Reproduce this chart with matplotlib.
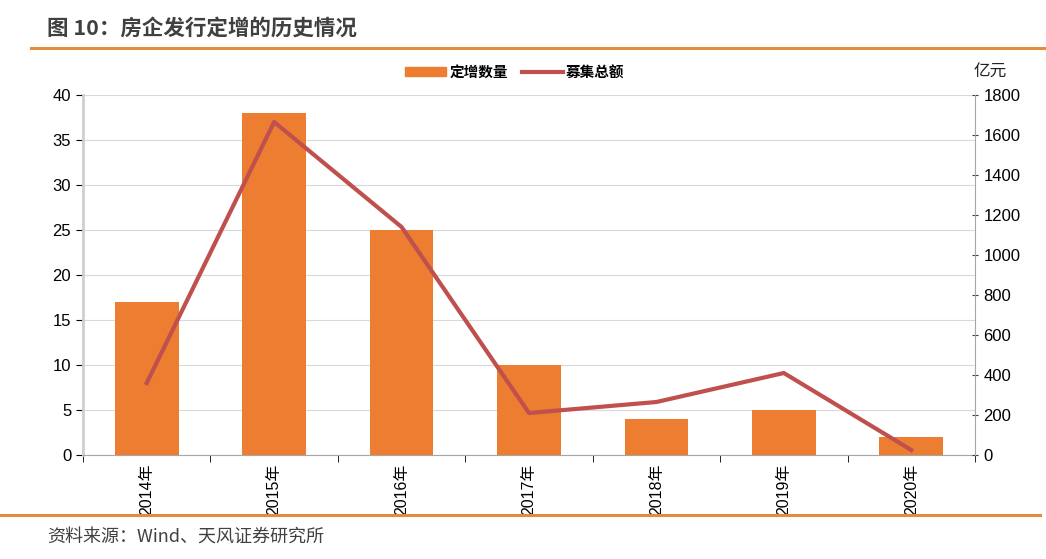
import matplotlib.pyplot as plt
import numpy as np
from matplotlib.lines import Line2D
from matplotlib.patches import Patch

plt.rcParams['font.family'] = ['Liberation Sans', 'Noto Sans CJK SC', 'DejaVu Sans']

years = ['2014年', '2015年', '2016年', '2017年', '2018年', '2019年', '2020年']
dingzeng_count = [17, 38, 25, 10, 4, 5, 2]
raised_amount = [360, 1665, 1140, 210, 265, 410, 25]

bar_color = '#ED7D31'
line_color = '#C0504D'
accent = '#E48B3D'
cjk = ['Noto Sans CJK SC', 'DejaVu Sans']

fig = plt.figure(figsize=(10.46, 5.59), dpi=100)
ax = fig.add_axes([83 / 1046, 1 - 455 / 559, (975 - 83) / 1046, (455 - 95) / 559])
x = np.arange(len(years))

ax.bar(x, dingzeng_count, width=0.5, color=bar_color, zorder=2)
ax.set_ylim(0, 40)
ax.set_yticks(range(0, 41, 5))
ax.set_xlim(-0.5, len(years) - 0.5)
ax.grid(axis='y', color='#d9d9d9', linewidth=0.8, zorder=0)
ax.set_xticks(x)
ax.set_xticklabels(years, rotation=90, fontsize=11.5)
ax.set_xticks(np.arange(-0.5, len(years), 1), minor=True)
ax.tick_params(axis='x', which='major', length=0, pad=6)
ax.tick_params(axis='x', which='minor', length=5, direction='out', color='black')
ax.tick_params(axis='y', labelsize=12, length=5, direction='out', color='black')
ax.spines['top'].set_visible(False)
ax.spines['right'].set_visible(False)
ax.spines['left'].set_color('#cfcfcf')
ax.spines['left'].set_linewidth(2)
ax.spines['bottom'].set_color('#a6a6a6')

ax2 = ax.twinx()
ax2.plot(x, raised_amount, color=line_color, linewidth=3, zorder=3)
ax2.set_ylim(0, 1800)
ax2.set_yticks(range(0, 1801, 200))
ax2.tick_params(axis='y', labelsize=12, length=5, direction='inout', color='#404040')
for s in ['top', 'left', 'bottom']:
    ax2.spines[s].set_visible(False)
ax2.spines['right'].set_color('#a6a6a6')

handles = [Patch(color=bar_color, label='定增数量'),
           Line2D([0], [0], color=line_color, linewidth=3, label='募集总额')]
fig.legend(handles=handles, loc='center', bbox_to_anchor=(515 / 1046, 1 - 72 / 559),
           ncol=2, frameon=False, prop={'family': cjk, 'size': 10.5, 'weight': 'bold'},
           handlelength=2.8, handleheight=0.6, columnspacing=1.0, handletextpad=0.2)
fig.text(990 / 1046, 1 - 72 / 559, '亿元', fontsize=12, ha='center', va='center',
         color='#222222', family=cjk)

fig.text(47 / 1046, 1 - 28 / 559, '图 10：房企发行定增的历史情况', fontsize=15.5, fontweight='bold',
         color='#404040', va='center', ha='left', family=cjk)
fig.add_artist(Line2D([31 / 1046, 1.0], [1 - 48 / 559, 1 - 48 / 559], color=accent, linewidth=2.2))
fig.add_artist(Line2D([0.0, 1040 / 1046], [1 - 515 / 559, 1 - 515 / 559], color=accent, linewidth=2.2))
fig.text(47 / 1046, 1 - 538 / 559, '资料来源：Wind、天风证券研究所', fontsize=13,
         color='#404040', va='center', ha='left', family=cjk)

fig.savefig('out.png', dpi=100)
